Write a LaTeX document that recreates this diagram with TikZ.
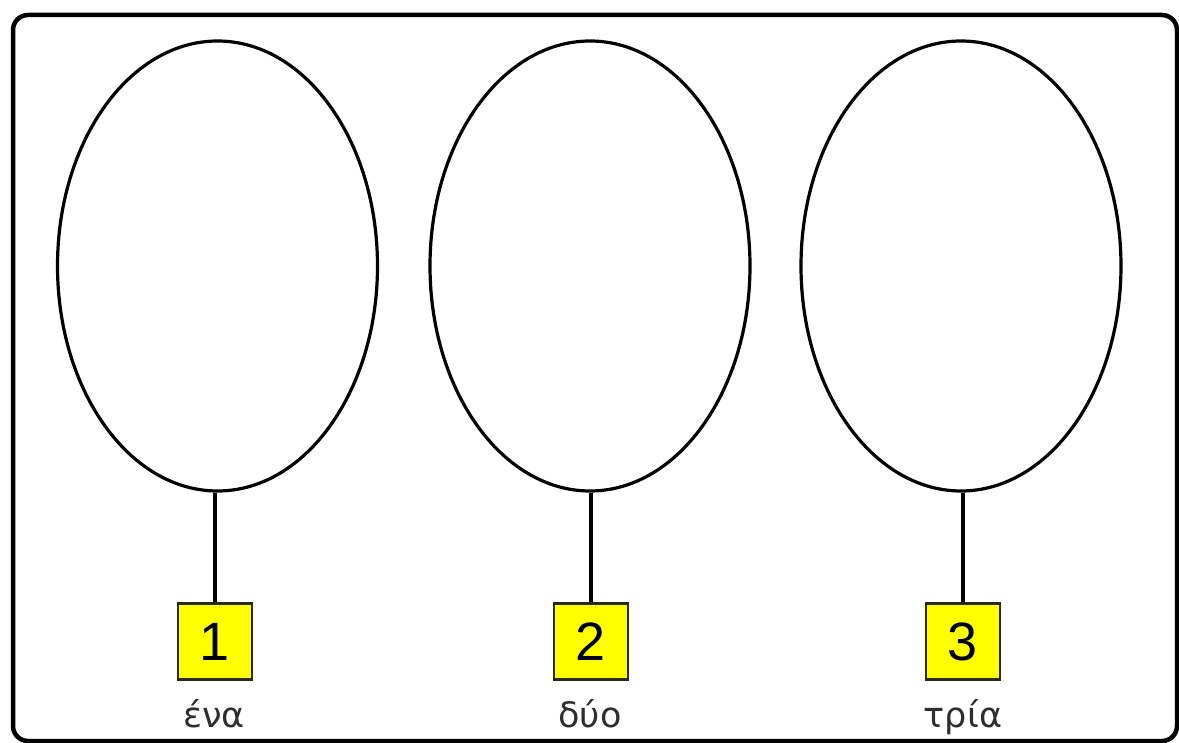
\documentclass[tikz,border=0pt]{standalone}
\usepackage{fontspec}
\usetikzlibrary{shapes.geometric}
\setmainfont{Liberation Sans}
\newfontfamily\grk{DejaVu Sans}
\definecolor{boxyellow}{HTML}{FFFF00}
\definecolor{boxedge}{HTML}{2A2A10}
\definecolor{labelgray}{HTML}{2E2E2E}
\begin{document}
\begin{tikzpicture}[x=1pt,y=-1pt,
  frame/.style={line width=4.5pt, draw=black, fill=white, rounded corners=15pt},
  egg/.style={ellipse, draw=black, line width=3.2pt, minimum width=320pt, minimum height=450pt, inner sep=0pt},
  numbox/.style={draw=boxedge, fill=boxyellow, line width=2.2pt, minimum width=74pt, minimum height=76pt, inner sep=0pt, font=\fontsize{54}{54}\selectfont},
  word/.style={anchor=base, text=labelgray, font=\grk\fontsize{35}{35}\selectfont, inner sep=0pt},
  stem/.style={line width=3.2pt, draw=black}]
\useasboundingbox (0,0) rectangle (1179,743);
\draw[frame] (13,15) rectangle (1177,741);
\node[egg] (e1) at (217.5,266) {};
\node[egg] (e2) at (590,266) {};
\node[egg] (e3) at (961,266) {};
\node[numbox] (b1) at (215,641.5) {1};
\node[numbox] (b2) at (591,641.5) {2};
\node[numbox] (b3) at (963,641.5) {3};
\draw[stem] (e1.south -| b1.north) -- (b1.north);
\draw[stem] (e2.south -| b2.north) -- (b2.north);
\draw[stem] (e3.south -| b3.north) -- (b3.north);
\node[word] (w1) at (214,727) {ένα};
\node[word] (w2) at (590,727) {δύο};
\node[word] (w3) at (963,727) {τρία};
\end{tikzpicture}
\end{document}
